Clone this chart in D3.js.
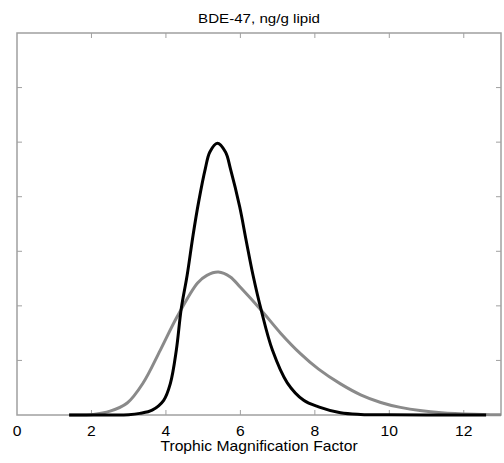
<!DOCTYPE html>
<html>
<head>
<meta charset="utf-8">
<script src="https://cdn.jsdelivr.net/npm/d3@7"></script>
<style>
  body { margin: 0; background: #fff; }
  text { font-family: "Liberation Sans", Arial, sans-serif; fill: #000; }
</style>
</head>
<body>
<div id="chart"></div>
<script>
// values
const blackX = [1.4, 2.5, 3.0, 3.3, 3.63, 3.94, 4.12, 4.28, 4.41, 4.57, 4.73, 4.88, 5.06, 5.18, 5.38, 5.6, 5.73, 5.98, 6.16, 6.34, 6.56, 6.86, 7.26, 7.7, 8.1, 8.69, 9.23, 10, 11, 12.6];
const blackY = [0, 0, 0.005, 0.03, 0.09, 0.27, 0.58, 1.19, 1.94, 2.56, 3.3, 3.91, 4.52, 4.82, 4.98, 4.82, 4.52, 3.82, 3.18, 2.56, 1.92, 1.19, 0.59, 0.27, 0.15, 0.04, 0.01, 0.003, 0, 0];
const grayX = [1.4, 2.05, 2.5, 2.96, 3.39, 3.85, 4.3, 4.85, 5.1, 5.41, 5.73, 6.0, 6.56, 7.08, 7.62, 8.1, 8.69, 9.23, 9.77, 10.3, 11.4, 12.5, 13];
const grayY = [0, 0.01, 0.07, 0.22, 0.59, 1.19, 1.8, 2.42, 2.56, 2.62, 2.53, 2.34, 1.92, 1.5, 1.12, 0.84, 0.57, 0.37, 0.23, 0.14, 0.04, 0.01, 0.003];
const xTicks = [0, 2, 4, 6, 8, 10, 12];
const yTicks = [1, 2, 3, 4, 5, 6];

const W = 504, H = 463, M = {t: 33, r: 3, b: 48, l: 17};
const svg = d3.select("#chart").append("svg")
  .attr("width", W)
  .attr("height", H);

const x = d3.scaleLinear().domain([0, 13]).range([M.l, W - M.r]);
const y = d3.scaleLinear().domain([0, 7]).range([H - M.b, M.t]);

const line = d3.line()
  .x(d => x(d[0]))
  .y(d => y(Math.max(0, d[1])))
  .curve(d3.curveCatmullRom.alpha(0.5));

// box + inward ticks on all four sides
const axisCol = "#a0a0a0";
svg.append("rect")
  .attr("x", x(0)).attr("y", y(7))
  .attr("width", x(13) - x(0)).attr("height", y(0) - y(7))
  .attr("fill", "none").attr("stroke", axisCol).attr("stroke-width", 1.5);

xTicks.slice(1).forEach(t => {
  svg.append("line").attr("x1", x(t)).attr("x2", x(t))
    .attr("y1", y(0)).attr("y2", y(0) - 5).attr("stroke", axisCol);
  svg.append("line").attr("x1", x(t)).attr("x2", x(t))
    .attr("y1", y(7)).attr("y2", y(7) + 5).attr("stroke", axisCol);
});
yTicks.forEach(t => {
  svg.append("line").attr("x1", x(0)).attr("x2", x(0) + 5)
    .attr("y1", y(t)).attr("y2", y(t)).attr("stroke", axisCol);
  svg.append("line").attr("x1", x(13)).attr("x2", x(13) - 5)
    .attr("y1", y(t)).attr("y2", y(t)).attr("stroke", axisCol);
});

// tick labels
xTicks.forEach(t => {
  svg.append("text")
    .attr("transform", `translate(${x(t)},436) scale(1.12,1)`)
    .attr("text-anchor", "middle")
    .attr("font-size", 14)
    .text(t);
});

// curves
svg.append("path")
  .datum(d3.zip(grayX, grayY))
  .attr("d", line)
  .attr("fill", "none")
  .attr("stroke", "#8a8a8a")
  .attr("stroke-width", 3);

svg.append("path")
  .datum(d3.zip(blackX, blackY))
  .attr("d", line)
  .attr("fill", "none")
  .attr("stroke", "#000")
  .attr("stroke-width", 3);

svg.append("text")
  .attr("transform", `translate(${(x(0) + x(13)) / 2},23) scale(1.12,1)`)
  .attr("text-anchor", "middle")
  .attr("font-size", 13.5)
  .text("BDE-47, ng/g lipid");

svg.append("text")
  .attr("transform", `translate(${(x(0) + x(13)) / 2},451) scale(1.12,1)`)
  .attr("text-anchor", "middle")
  .attr("font-size", 14)
  .text("Trophic Magnification Factor");
</script>
</body>
</html>
